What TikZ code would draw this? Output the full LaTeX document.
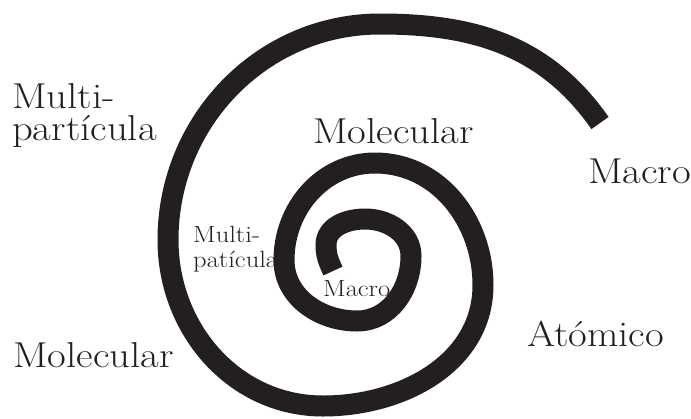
\documentclass[tikz,border=0pt]{standalone}
\usepackage{fontspec}
\setmainfont{Latin Modern Roman}[FakeStretch=1.13]
\definecolor{ink}{RGB}{35,31,32}
\tikzset{
  coil/.style={draw=ink, line width=21pt},
  biglabel/.style={inner sep=0pt, anchor=base west, text=ink,
    font=\fontsize{36}{32}\selectfont, align=left},
  smalllabel/.style={inner sep=0pt, anchor=base west, text=ink,
    font=\fontsize{23.5}{25}\selectfont, align=left}
}

\begin{document}
\begin{tikzpicture}[x=1pt, y=1pt]
  \useasboundingbox (0,0) rectangle (691,-418);
  % spiral, from the inner end outwards
  \coordinate (e0) at (333,-271);
  \coordinate (l1) at (326,-245);
  \coordinate (t1) at (365,-219);
  \coordinate (r1) at (411,-256);
  \coordinate (b1) at (357,-321);
  \coordinate (l2) at (284,-260);
  \coordinate (t2) at (375,-163);
  \coordinate (r2) at (483,-285);
  \coordinate (b2) at (323,-406);
  \coordinate (l3) at (168,-240);
  \coordinate (t3) at (380,-24);
  \coordinate (a0) at (600,-123);
  \draw[coil] (e0) to[out=115,in=-90] (l1) to[out=90,in=180] (t1)
    to[out=0,in=90] (r1) to[out=-90,in=0] (b1) to[out=180,in=-90] (l2)
    to[out=90,in=180] (t2) to[out=0,in=90] (r2) to[out=-90,in=0] (b2)
    to[out=180,in=-90] (l3) to[out=90,in=180] (t3) to[out=0,in=125] (a0);
  % labels
  \node[biglabel] (multiout) at (12,-140) {Multi-\\partícula};
  \node[biglabel] (molup) at (313,-143) {Molecular};
  \node[biglabel] (macroout) at (588,-183) {Macro};
  \node[biglabel] (atomico) at (527,-346) {Atómico};
  \node[biglabel] (moldown) at (13,-367) {Molecular};
  \node[smalllabel] (multiin) at (193,-267) {Multi-\\patícula};
  \node[smalllabel] (macroin) at (323,-296) {Macro};
\end{tikzpicture}
\end{document}
